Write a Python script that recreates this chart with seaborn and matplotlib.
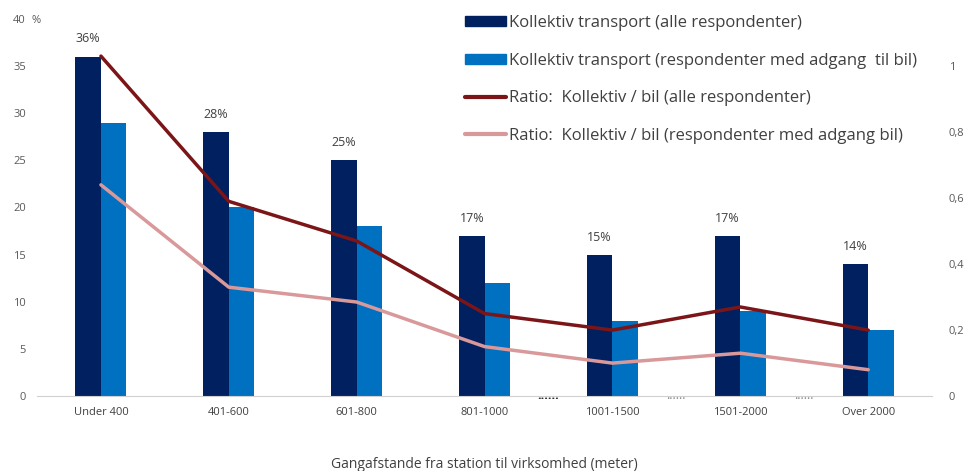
import numpy as np
import pandas as pd
import matplotlib.pyplot as plt
import seaborn as sns
from matplotlib.patches import Patch
from matplotlib.lines import Line2D

# Data
categories = ['Under 400', '401-600', '601-800', '801-1000', '1001-1500', '1501-2000', 'Over 2000']
kollektiv_alle = [36, 28, 25, 17, 15, 17, 14]
kollektiv_bil = [29, 20, 18, 12, 8, 9, 7]
ratio_alle = [1.03, 0.59, 0.47, 0.25, 0.20, 0.27, 0.20]
ratio_bil = [0.64, 0.33, 0.285, 0.15, 0.10, 0.13, 0.08]
left_ticks = [0, 5, 10, 15, 20, 25, 30, 35, 40]
right_ticks = [0, 0.2, 0.4, 0.6, 0.8, 1]

lab_bar1 = 'Kollektiv transport (alle respondenter)'
lab_bar2 = 'Kollektiv transport (respondenter med adgang  til bil)'
lab_line1 = 'Ratio:  Kollektiv / bil (alle respondenter)'
lab_line2 = 'Ratio:  Kollektiv / bil (respondenter med adgang bil)'

c_dark = '#002060'
c_blue = '#0070c0'
c_red = '#7b1518'
c_pink = '#d9999a'

sns.set_style('white')
plt.rcParams['font.family'] = ['Open Sans', 'DejaVu Sans']

df = pd.DataFrame({
    'Afstand': categories * 2,
    'Andel': kollektiv_alle + kollektiv_bil,
    'Serie': [lab_bar1] * len(categories) + [lab_bar2] * len(categories),
})

fig = plt.figure(figsize=(9.73, 4.71), dpi=100)
ax = fig.add_axes([0.038, 0.159, 0.92, 0.801])

sns.barplot(data=df, x='Afstand', y='Andel', hue='Serie', order=categories,
            palette=[c_dark, c_blue], width=0.4, saturation=1, linewidth=0,
            ax=ax, legend=False)

# percentage labels above the dark bars
ax.bar_label(ax.containers[0], labels=[f'{v}%' for v in kollektiv_alle],
             padding=8, fontsize=9, color='#404040')

ax.set_xlim(-0.5, len(categories) - 0.5)
ax.set_ylim(0, 40)
ax.set_yticks(left_ticks)
ax.set_yticklabels([str(t) for t in left_ticks])
ax.tick_params(axis='y', length=0, labelsize=8, colors='#595959', pad=8)
ax.tick_params(axis='x', length=0, labelsize=8, colors='#404040', pad=8)
ax.annotate('%', xy=(0, 40), xycoords=('axes fraction', 'data'), xytext=(-4, 0),
            textcoords='offset points', ha='left', va='center_baseline',
            fontsize=8, color='#595959')
ax.set_xlabel('Gangafstande fra station til virksomhed (meter)', fontsize=10,
              color='#404040', labelpad=28)
ax.set_ylabel('')
for s in ['top', 'right', 'left']:
    ax.spines[s].set_visible(False)
ax.spines['bottom'].set_color('#d0d0d0')

# dotted break markers between categories
for xpos, col, wt in [(3.5, '#222222', 'bold'), (4.5, '#888888', 'normal'), (5.5, '#888888', 'normal')]:
    ax.text(xpos, -0.35, '......', ha='center', va='baseline', fontsize=9,
            color=col, fontweight=wt)

ax2 = ax.twinx()
xs = np.arange(len(categories))
sns.lineplot(x=xs, y=ratio_alle, color=c_red, lw=2.5, ax=ax2)
sns.lineplot(x=xs, y=ratio_bil, color=c_pink, lw=2.5, ax=ax2)
ax2.set_ylim(0, 40 / 35)
ax2.set_yticks(right_ticks)
ax2.set_yticklabels([('%g' % t).replace('.', ',') for t in right_ticks])
ax2.tick_params(axis='y', length=0, labelsize=8, colors='#595959', pad=12)
for s in ['top', 'right', 'left', 'bottom']:
    ax2.spines[s].set_visible(False)

handles = [
    Patch(color=c_dark), Patch(color=c_blue),
    Line2D([], [], color=c_red, lw=3), Line2D([], [], color=c_pink, lw=3),
]
fig.legend(handles, [lab_bar1, lab_bar2, lab_line1, lab_line2],
           loc='upper left', bbox_to_anchor=(0.462, 1.0), frameon=False,
           fontsize=12, labelcolor='#404040', handlelength=2.5, handleheight=0.6,
           handletextpad=0.15, labelspacing=1.3)

fig.savefig('out.png', dpi=100)
